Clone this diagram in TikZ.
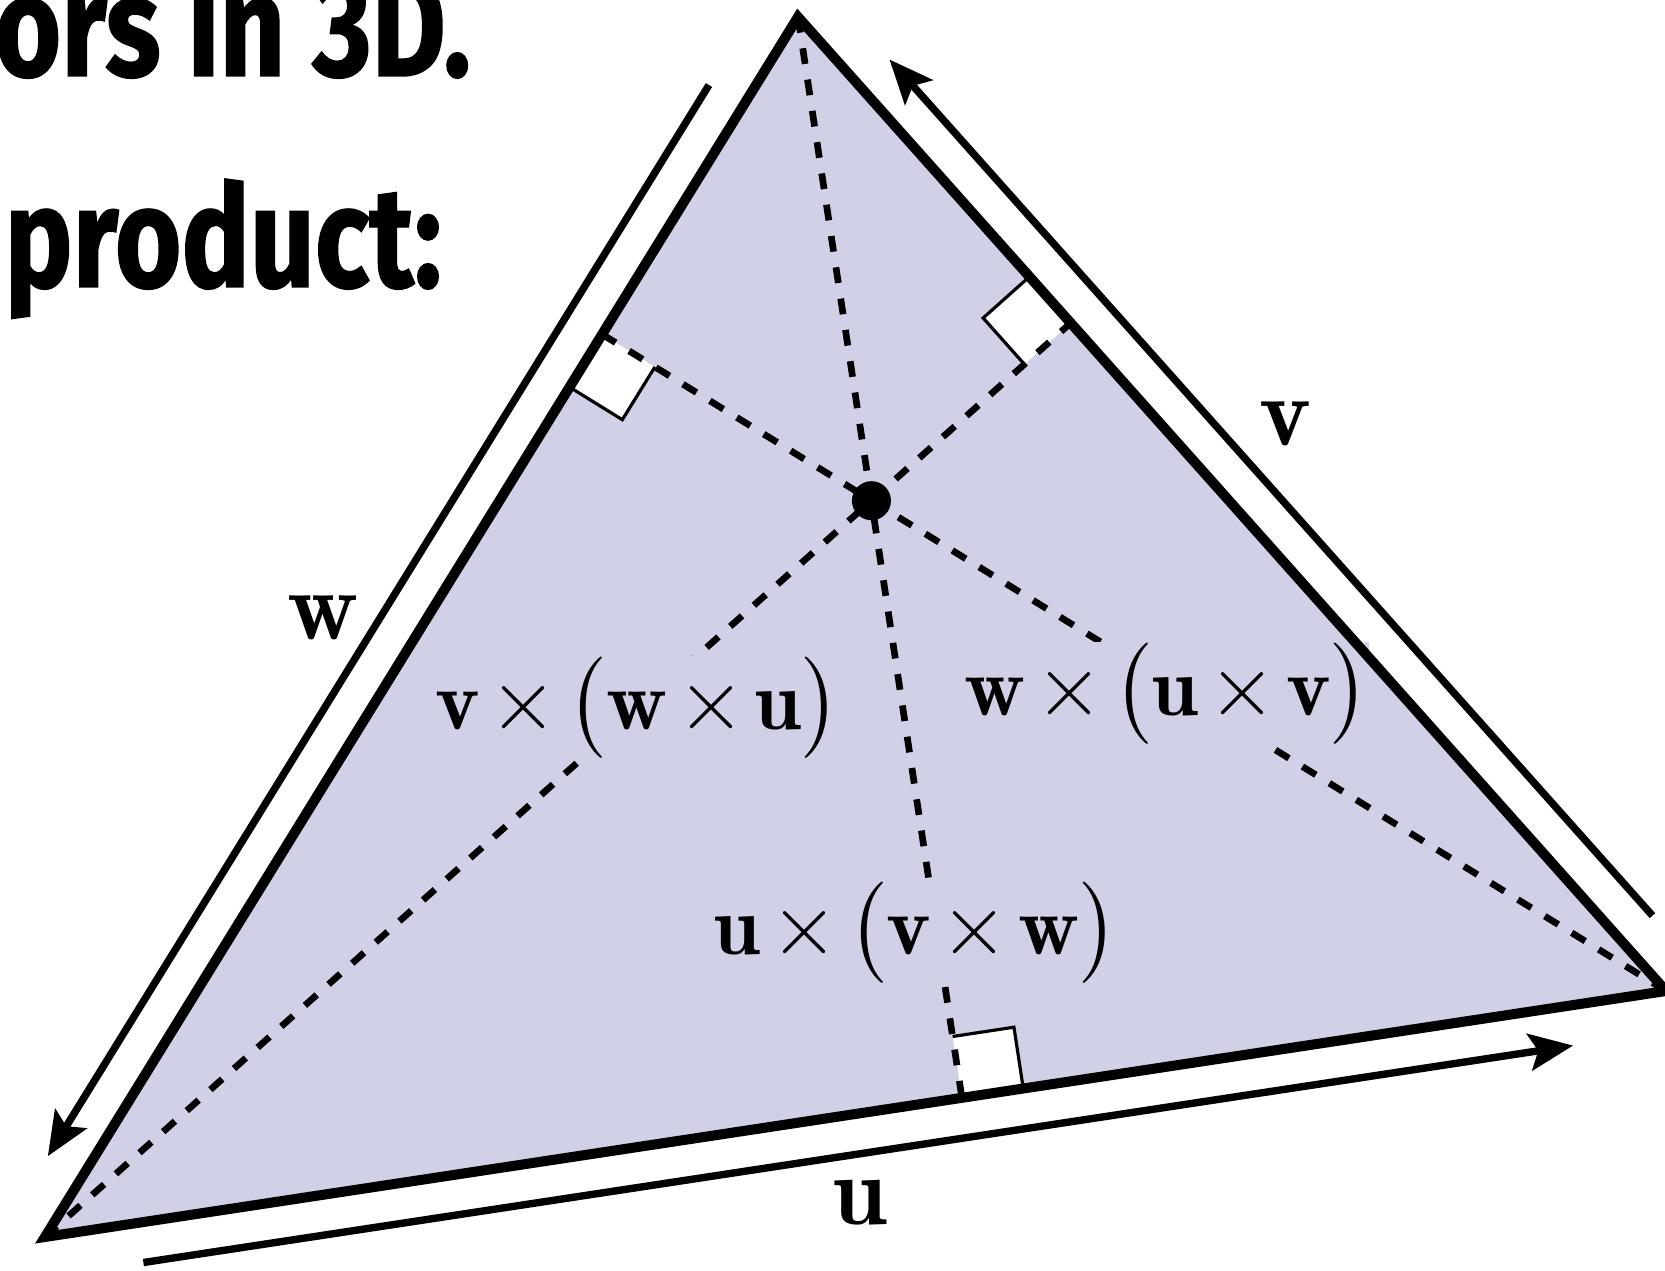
\documentclass[tikz,border=0pt]{standalone}
\usepackage{amsmath,amssymb}
\usepackage{fontspec}
\usepackage{xcolor}
\usepackage{tikz}
\usetikzlibrary{arrows.meta,calc}
\newfontfamily\slidefont[FakeStretch=0.8,FakeBold=1.0]{Fira Sans}
\definecolor{trifill}{RGB}{208,209,231}
\tikzset{
  side/.style={line width=2.85pt,line join=miter},
  alt/.style={line width=1.9pt,dash pattern=on 4.5pt off 4.5pt},
  vec/.style={-{Stealth[length=12.5pt,width=10.5pt,inset=2.5pt]},line width=2.1pt},
  rtedge/.style={line width=0.9pt},
  lbl/.style={fill=trifill,inner sep=0pt,font=\fontsize{24}{24}\selectfont},
  veclbl/.style={inner sep=0pt,font=\fontsize{28}{28}\selectfont},
  title/.style={inner sep=0pt,anchor=base west,font=\slidefont\bfseries\fontsize{40.5}{40.5}\selectfont},
  dot/.style={circle,fill,inner sep=0pt,minimum size=3.9mm}
}

\begin{document}
\begin{tikzpicture}[x=0.01cm,y=-0.01cm]
  \useasboundingbox (0,0) rectangle (1665,1271);
  \clip (0,0) rectangle (1665,1271);
  % ---- corners, feet of the altitudes, orthocentre ----
  \coordinate (A) at (798,17);
  \coordinate (B) at (45,1237);
  \coordinate (C) at (1666,991);
  \coordinate (fa) at ($(B)!(A)!(C)$);
  \coordinate (fb) at ($(C)!(B)!(A)$);
  \coordinate (fc) at ($(A)!(C)!(B)$);
  \coordinate (H) at (intersection of A--fa and B--fb);
  \fill[trifill] (A) -- (B) -- (C) -- cycle;
  % ---- right-angle marks ----
  \coordinate (fa1) at ($(fa)!0.62cm!(C)$);
  \coordinate (fa2) at ($(fa)!0.62cm!(H)$);
  \coordinate (fb1) at ($(fb)!0.62cm!(A)$);
  \coordinate (fb2) at ($(fb)!0.62cm!(H)$);
  \coordinate (fc1) at ($(fc)!0.62cm!(B)$);
  \coordinate (fc2) at ($(fc)!0.62cm!(H)$);
  \fill[white] (fa) -- (fa1) -- ($(fa1)+(fa2)-(fa)$) -- (fa2) -- cycle;
  \fill[white] (fb) -- (fb1) -- ($(fb1)+(fb2)-(fb)$) -- (fb2) -- cycle;
  \fill[white] (fc) -- (fc1) -- ($(fc1)+(fc2)-(fc)$) -- (fc2) -- cycle;
  \draw[rtedge] (fa1) -- ($(fa1)+(fa2)-(fa)$) -- (fa2);
  \draw[rtedge] (fb1) -- ($(fb1)+(fb2)-(fb)$) -- (fb2);
  \draw[rtedge] (fc1) -- ($(fc1)+(fc2)-(fc)$) -- (fc2);
  % ---- altitudes ----
  \draw[alt] (A) -- (fa);
  \draw[alt] (B) -- (fb);
  \draw[alt] (C) -- (fc);
  \node[lbl] (vwu) at (638,708) {$\medmuskip=2mu\mathbf{v}\times\bigl(\mathbf{w}\times\mathbf{u}\bigr)$};
  \node[lbl] (wuv) at (1167,694) {$\medmuskip=2mu\mathbf{w}\times\bigl(\mathbf{u}\times\mathbf{v}\bigr)$};
  \node[lbl] (uvw) at (916,933) {$\medmuskip=2mu\mathbf{u}\times\bigl(\mathbf{v}\times\mathbf{w}\bigr)$};
  \draw[side] (A) -- (B) -- (C) -- cycle;
  \node[dot] (orth) at (H) {};
  % ---- edge vectors ----
  \draw[vec] ($(A)!0.073!(B)!0.4cm!-90:(B)$) -- ($(A)!0.951!(B)!0.4cm!-90:(B)$);
  \draw[vec] ($(B)!0.057!(C)!0.4cm!-90:(C)$) -- ($(B)!0.939!(C)!0.4cm!-90:(C)$);
  \draw[vec] ($(C)!0.050!(A)!0.4cm!-90:(A)$) -- ($(C)!0.929!(A)!0.4cm!-90:(A)$);
  \node[veclbl] (wlbl) at (323,618) {$\mathbf{w}$};
  \node[veclbl] (vlbl) at (1285,424) {$\mathbf{v}$};
  \node[veclbl] (ulbl) at (860,1203) {$\mathbf{u}$};
  % ---- slide heading, cut at the edge ----
  \node[title] (head1) at (-6,76) {ors in 3D.};
  \node[title] (head2) at (4,287) {product:};
\end{tikzpicture}
\end{document}
